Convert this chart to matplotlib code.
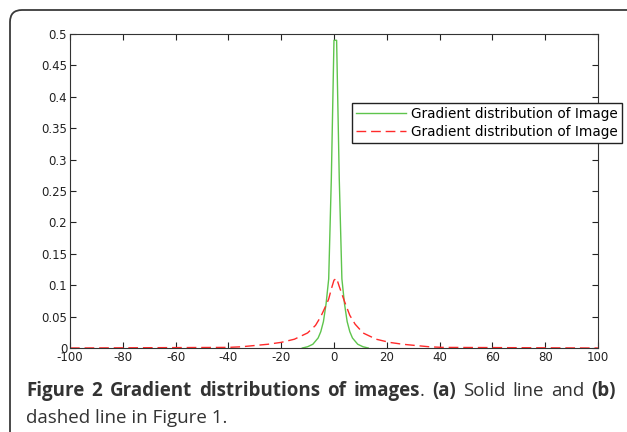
import matplotlib
matplotlib.use("Agg")
import matplotlib.pyplot as plt
from matplotlib.patches import FancyBboxPatch

# gradient histogram values
grad_a_x = [-12, -10, -8, -6, -5, -4, -3, -2, -1, 0, 1, 2, 3, 4, 5, 6, 7, 9, 11, 13]
grad_a_y = [0.0, 0.002, 0.006, 0.016, 0.026, 0.042, 0.07, 0.11, 0.27, 0.49,
            0.49, 0.27, 0.11, 0.07, 0.042, 0.026, 0.016, 0.006, 0.002, 0.0]

grad_b_x = [-100, -40, -35, -30, -25, -20, -15, -10, -7, -5, -3, -2, -1, 0, 1,
            2, 3, 4, 6, 8, 11, 16, 21, 26, 31, 36, 41, 100]
grad_b_y = [0.0, 0.001, 0.002, 0.004, 0.006, 0.009, 0.014, 0.024, 0.036, 0.05,
            0.068, 0.078, 0.094, 0.108, 0.111, 0.098, 0.086, 0.074, 0.052, 0.038,
            0.024, 0.014, 0.009, 0.006, 0.004, 0.002, 0.001, 0.0]

legend_labels = ["Gradient distribution of Image", "Gradient distribution of Image"]
x_ticks = list(range(-100, 101, 20))
y_ticks = [0, 0.05, 0.1, 0.15, 0.2, 0.25, 0.3, 0.35, 0.4, 0.45, 0.5]
y_tick_labels = ["0", "0.05", "0.1", "0.15", "0.2", "0.25", "0.3", "0.35", "0.4", "0.45", "0.5"]

fig = plt.figure(figsize=(6.27, 4.32), dpi=100)

# rounded frame around the whole figure, running off the right and bottom
frame = FancyBboxPatch((0.1, -0.5), 6.6, 4.72,
                       boxstyle="round,pad=0,rounding_size=0.12",
                       transform=fig.dpi_scale_trans, facecolor="none",
                       edgecolor="#3a3a3a", linewidth=1.3, clip_on=False)
fig.patches.append(frame)

ax = fig.add_axes([0.1116, 0.1944, 0.8421, 0.7269])
line_a, = ax.plot(grad_a_x, grad_a_y, color="#5ec44c", linewidth=1.0)
line_b, = ax.plot(grad_b_x, grad_b_y, color="#ff2a2a", linewidth=1.0,
                  linestyle=(0, (7, 3.5)))

ax.set_xlim(-100, 100)
ax.set_ylim(0, 0.5)
ax.set_xticks(x_ticks)
ax.set_xticklabels([str(t) for t in x_ticks])
ax.set_yticks(y_ticks)
ax.set_yticklabels(y_tick_labels)
ax.tick_params(direction="in", top=True, right=True, length=4, width=0.8,
               labelsize=8.5, pad=2, colors="#222222")
for s in ax.spines.values():
    s.set_color("#333333")
    s.set_linewidth(0.8)

leg = fig.legend([line_a, line_b], legend_labels,
                 bbox_to_anchor=(0.5614, 0.671, 0.4306, 0.088),
                 bbox_transform=fig.transFigure, loc="center left",
                 mode="expand", borderaxespad=0, fontsize=9.8,
                 handlelength=3.7, handletextpad=0.35, labelspacing=0.3,
                 borderpad=0.3, fancybox=False, framealpha=1)
leg.get_frame().set_edgecolor("#222222")
leg.get_frame().set_linewidth(1.0)

# caption: first line justified between the frame margins, mixed weights
cap_font = "Open Sans"
cap_size = 13.5
cap_color = "#333333"
line1 = [("Figure", "bold"), ("2", "bold"), ("Gradient", "bold"),
         ("distributions", "bold"), ("of", "bold"), ("images", "bold"),
         (".", "normal"), ("(a)", "bold"), ("Solid", "normal"),
         ("line", "normal"), ("and", "normal"), ("(b)", "bold")]
renderer = fig.canvas.get_renderer()
x_left = 26 / 627
x_right = 616 / 627
y1 = 1 - 391 / 432
pieces = []
for txt, w in line1:
    t = fig.text(0, y1, txt, fontsize=cap_size, fontweight=w, family=cap_font,
                 color=cap_color, va="center", ha="left")
    pieces.append(t)
widths = [t.get_window_extent(renderer=renderer).width / fig.bbox.width for t in pieces]
# "images" and "." sit together, so there is no gap between them
gaps = len(pieces) - 2
space = (x_right - x_left - sum(widths)) / gaps
x = x_left
for i, (t, w) in enumerate(zip(pieces, widths)):
    t.set_x(x)
    x += w
    if i != 5:
        x += space
fig.text(x_left, 1 - 418 / 432, "dashed line in Figure 1.", fontsize=cap_size,
         family=cap_font, color=cap_color, va="center", ha="left")

fig.savefig("out.png", dpi=100)
